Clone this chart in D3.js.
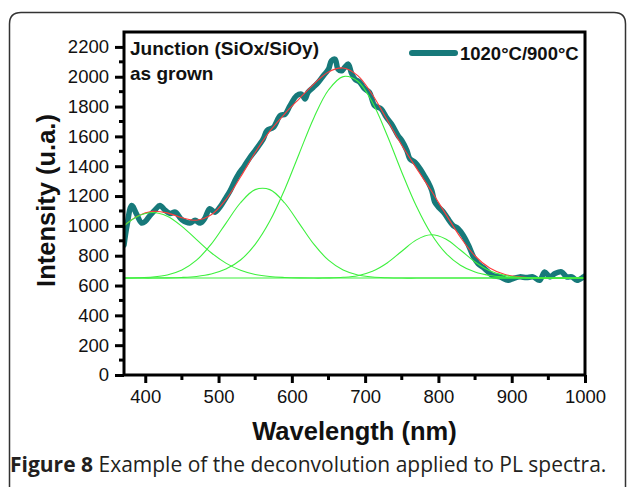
<!DOCTYPE html>
<html><head><meta charset="utf-8">
<script src="https://cdn.jsdelivr.net/npm/d3@7"></script>
<style>body{margin:0;background:#fff;}svg{display:block;}</style>
</head><body>
<script>
// ---- data ----
const xTicks = [400,500,600,700,800,900,1000];
const yTicks = [0,200,400,600,800,1000,1200,1400,1600,1800,2000,2200];
const seriesName = "1020°C/900°C";
const annotation = ["Junction (SiOx/SiOy)", "as grown"];

// measured PL spectrum (wavelength nm, intensity)
const measWl = [371,375,381.5,388,395,400,406.5,414,420,427,434,441,450,461,468,475,481,488,495,502,509,516,522,527,535,543,550,561,566,575,584,591,597.5,606.6,613,618,622,629,636,643,650,654,659,663,668,672,677,681,686,693,699,706,713,722,729,736,745,750,757,761,768,775,782,786,791,795,800,807,813,820,827,834,841,848,854,863,873,884,895,902,911,920,929,938,945,952,959,968,975,982,989,998,1000];
const measI  = [870,1000,1137,1080,1019,1030,1070,1110,1137,1105,1083,1092,1041,1019,1037,1019,1048,1115,1092,1126,1180,1237,1300,1345,1400,1460,1505,1583,1639,1661,1739,1750,1806,1873,1884,1851,1895,1928,1962,2007,2051,2107,2118,2051,2040,2062,2085,2029,1984,1962,1920,1895,1806,1784,1728,1683,1605,1572,1505,1450,1427,1383,1326,1293,1237,1159,1126,1092,1048,1003,981,936,870,791,747,714,669,658,635,647,658,653,658,635,691,658,680,691,658,658,635,658,665];

// fit curves sampled along the wavelength grid
const fitWl = [370,390,410,430,450,470,490,510,530,550,570,590,610,630,650,670,690,710,730,750,770,790,810,830,850,870,890,910,930,950,970,990,1000];
const peak1 = [997,1065,1090,1065,997,908,820,750,702,674,660,654,651,650,650,650,650,650,650,650,650,650,650,650,650,650,650,650,650,650,650,650,650];
const peak2 = [650,652,657,671,704,770,877,1017,1155,1243,1243,1155,1017,877,770,704,671,657,652,650,650,650,650,650,650,650,650,650,650,650,650,650,650];
const peak3 = [650,650,650,651,654,661,677,710,771,876,1032,1241,1484,1724,1911,2001,1970,1827,1608,1360,1131,947,817,736,690,667,657,652,651,650,650,650,650];
const peak4 = [650,650,650,650,650,650,650,650,650,650,650,650,650,650,651,655,666,695,751,830,906,940,912,838,758,699,668,655,651,650,650,650,650];
const fitSum = [997,1067,1097,1087,1055,1038,1074,1176,1328,1492,1635,1750,1852,1951,2032,2059,2007,1879,1711,1541,1387,1237,1079,924,798,717,675,658,652,650,650,650,650];

const W = 629, H = 487;
const m = {left:124, right:44, top:32, bottom:112};
const svg = d3.select("body").append("svg").attr("width",W).attr("height",H);

// outer rounded frame
svg.append("path")
  .attr("d", `M9.5,${H+5} L9.5,24 Q9.5,12.5 21,12.5 L614,12.5 Q625.5,12.5 625.5,24 L625.5,${H+5}`)
  .attr("fill","none").attr("stroke","#333").attr("stroke-width",1.5);

const x = d3.scaleLinear().domain([371,1000]).range([m.left, W-m.right]);
const y = d3.scaleLinear().domain([0,2300]).range([H-m.bottom, m.top]);

const g = svg.append("g");
const lineXY = (xs, ys) => xs.map((v,i)=>[v, ys[i]]);
const smooth = d3.line().x(d=>x(d[0])).y(d=>y(d[1])).curve(d3.curveCatmullRom.alpha(0.5));

svg.append("clipPath").attr("id","clip").append("rect")
  .attr("x",x(371)).attr("y",y(2300)).attr("width",x(1000)-x(371)).attr("height",y(0)-y(2300));
const plot = g.append("g").attr("clip-path","url(#clip)");

plot.append("path").attr("d", smooth(lineXY(measWl, measI)))
  .attr("fill","none").attr("stroke","#17797a").attr("stroke-width",5.5)
  .attr("stroke-linejoin","round").attr("stroke-linecap","round");
plot.append("path").attr("d", smooth(lineXY(fitWl, fitSum)))
  .attr("fill","none").attr("stroke","#ff3b3b").attr("stroke-width",1.1);
[peak1,peak2,peak3,peak4].forEach(p=>{
  plot.append("path").attr("d", smooth(lineXY(fitWl, p)))
    .attr("fill","none").attr("stroke","#3df03d").attr("stroke-width",1.1);
});

// axes
const axisFont = "Liberation Sans, Arial, sans-serif";
const yAxis = d3.axisLeft(y).tickValues(yTicks).tickSize(9).tickPadding(6).tickFormat(d3.format("d"));
const yg = svg.append("g").attr("transform",`translate(${x(371)},0)`).call(yAxis);
const xAxis = d3.axisBottom(x).tickValues(xTicks).tickSize(8).tickPadding(7).tickFormat(d3.format("d"));
const xg = svg.append("g").attr("transform",`translate(0,${y(0)})`).call(xAxis);
[yg,xg].forEach(a=>{
  a.attr("font-family",axisFont).attr("font-size",18.5);
  a.select(".domain").remove();
  a.selectAll(".tick line").attr("stroke","#000").attr("stroke-width",3);
  a.selectAll(".tick text").attr("fill","#111");
});
// minor ticks
const yMinor = d3.range(100,2300,200);
svg.append("g").selectAll("line").data(yMinor).join("line")
  .attr("x1",x(371)-5).attr("x2",x(371)).attr("y1",d=>y(d)).attr("y2",d=>y(d))
  .attr("stroke","#000").attr("stroke-width",3);
const xMinor = [450,550,650,750,850,950];
svg.append("g").selectAll("line").data(xMinor).join("line")
  .attr("y1",y(0)).attr("y2",y(0)+5).attr("x1",d=>x(d)).attr("x2",d=>x(d))
  .attr("stroke","#000").attr("stroke-width",3);

// frame box
svg.append("rect").attr("x",x(371)).attr("y",y(2300)).attr("width",x(1000)-x(371)).attr("height",y(0)-y(2300))
  .attr("fill","none").attr("stroke","#000").attr("stroke-width",3);

// axis titles
svg.append("text").attr("x",(x(371)+x(1000))/2).attr("y",440).attr("text-anchor","middle")
  .attr("font-family",axisFont).attr("font-weight","bold").attr("font-size",25.5).attr("fill","#111")
  .text("Wavelength (nm)");
svg.append("text").attr("transform",`translate(55,${(y(0)+y(2300))/2-3}) rotate(-90)`).attr("text-anchor","middle")
  .attr("font-family",axisFont).attr("font-weight","bold").attr("font-size",25.5).attr("fill","#111")
  .text("Intensity (u.a.)");

// annotation
annotation.forEach((t,i)=>{
  svg.append("text").attr("x",130).attr("y",54.5+i*25.5).attr("font-family",axisFont)
    .attr("font-weight","bold").attr("font-size",19).attr("fill","#111").text(t);
});

// legend
svg.append("line").attr("x1",412).attr("x2",455).attr("y1",53).attr("y2",53)
  .attr("stroke","#17797a").attr("stroke-width",6).attr("stroke-linecap","round");
svg.append("text").attr("x",460).attr("y",60).attr("font-family",axisFont)
  .attr("font-weight","bold").attr("font-size",18.5).attr("fill","#111").text(seriesName);

// caption
const cap = svg.append("text").attr("x",10).attr("y",472).attr("font-family","Open Sans, Noto Sans, sans-serif")
  .attr("font-size",21).attr("fill","#231f20");
cap.append("tspan").attr("font-weight","bold").text("Figure 8");
cap.append("tspan").text(" Example of the deconvolution applied to PL spectra.");
</script>
</body></html>
